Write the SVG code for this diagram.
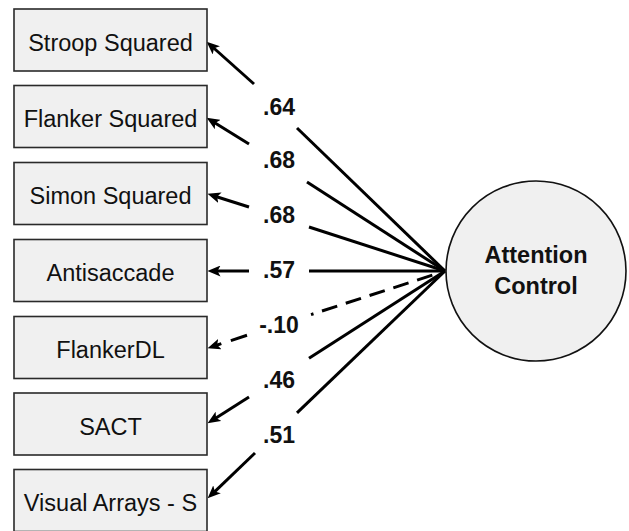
<svg xmlns="http://www.w3.org/2000/svg" width="629" height="531" viewBox="0 0 629 531">
  <style>
    .box { fill: #f0f0f0; stroke: #2a2a2a; stroke-width: 1.6; }
    .lbl { font-family: "Liberation Sans", Arial, sans-serif; font-size: 23.5px; fill: #111; text-anchor: middle; }
    .coef { font-family: "Liberation Sans", Arial, sans-serif; font-size: 23px; font-weight: bold; fill: #111; text-anchor: middle; }
    .title { font-family: "Liberation Sans", Arial, sans-serif; font-size: 23.5px; font-weight: bold; fill: #111; text-anchor: middle; }
    .ln { stroke: #000; stroke-width: 3; fill: none; }
    .dash { stroke-dasharray: 16 9; }
  </style>
  <defs>
    <marker id="arr" markerUnits="userSpaceOnUse" markerWidth="13" markerHeight="11" refX="3.5" refY="5.5" orient="auto" viewBox="0 0 13 11">
      <path d="M0,0 L13,5.5 L0,11 L3,5.5 z" fill="#000"/>
    </marker>
  </defs>
  <rect width="629" height="531" fill="#fff"/>

  <g id="connectors">
    <g id="c-stroop">
      <line class="ln" x1="445" y1="271" x2="297" y2="128"/>
      <line class="ln" x1="254" y1="84" x2="213.7" y2="48" marker-end="url(#arr)"/>
    </g>
    <g id="c-flanker">
      <line class="ln" x1="445" y1="271" x2="307" y2="182"/>
      <line class="ln" x1="249" y1="144" x2="214.7" y2="122.7" marker-end="url(#arr)"/>
    </g>
    <g id="c-simon">
      <line class="ln" x1="445" y1="271" x2="309" y2="227"/>
      <line class="ln" x1="249" y1="207" x2="216.6" y2="196.7" marker-end="url(#arr)"/>
    </g>
    <g id="c-anti">
      <line class="ln" x1="445" y1="271" x2="309" y2="271"/>
      <line class="ln" x1="249" y1="271" x2="217" y2="271" marker-end="url(#arr)"/>
    </g>
    <g id="c-flankerdl">
      <line class="ln dash" x1="322" y1="311" x2="445" y2="271"/>
      <line class="ln" x1="311" y1="314.6" x2="313.5" y2="313.8"/>
      <line class="ln" style="stroke-dasharray:17 10" x1="247" y1="335.3" x2="216.6" y2="345.2" marker-end="url(#arr)"/>
    </g>
    <g id="c-sact">
      <line class="ln" x1="445" y1="271" x2="309" y2="358.2"/>
      <line class="ln" x1="249" y1="397" x2="215.6" y2="418.2" marker-end="url(#arr)"/>
    </g>
    <g id="c-visual">
      <line class="ln" x1="445" y1="271" x2="297" y2="412.8"/>
      <line class="ln" x1="255" y1="453" x2="214.5" y2="491.8" marker-end="url(#arr)"/>
    </g>
    <g id="coefficients">
      <text class="coef" x="279" y="115">.64</text>
      <text class="coef" x="279" y="168">.68</text>
      <text class="coef" x="279" y="223">.68</text>
      <text class="coef" x="279" y="278">.57</text>
      <text class="coef" x="279" y="333">-.10</text>
      <text class="coef" x="279" y="388">.46</text>
      <text class="coef" x="279" y="443">.51</text>
    </g>
  </g>

  <g id="n-stroop">
    <rect class="box" x="14" y="9" width="193" height="62"/>
    <text class="lbl" x="110.5" y="50.5">Stroop Squared</text>
  </g>
  <g id="n-flanker">
    <rect class="box" x="14" y="85.5" width="193" height="62"/>
    <text class="lbl" x="110.5" y="127">Flanker Squared</text>
  </g>
  <g id="n-simon">
    <rect class="box" x="14" y="162.5" width="193" height="62"/>
    <text class="lbl" x="110.5" y="204">Simon Squared</text>
  </g>
  <g id="n-anti">
    <rect class="box" x="14" y="239.5" width="193" height="62"/>
    <text class="lbl" x="110.5" y="281">Antisaccade</text>
  </g>
  <g id="n-flankerdl">
    <rect class="box" x="14" y="316.5" width="193" height="62"/>
    <text class="lbl" x="110.5" y="358">FlankerDL</text>
  </g>
  <g id="n-sact">
    <rect class="box" x="14" y="393" width="193" height="62"/>
    <text class="lbl" x="110.5" y="434.5">SACT</text>
  </g>
  <g id="n-visual">
    <rect class="box" x="14" y="469.5" width="193" height="62"/>
    <text class="lbl" x="110.5" y="511">Visual Arrays - S</text>
  </g>

  <g id="n-attention">
    <circle cx="536" cy="271" r="90" fill="#f0f0f0" stroke="#111" stroke-width="1.6"/>
    <text class="title" x="536" y="263">Attention</text>
    <text class="title" x="536" y="294">Control</text>
  </g>
</svg>
